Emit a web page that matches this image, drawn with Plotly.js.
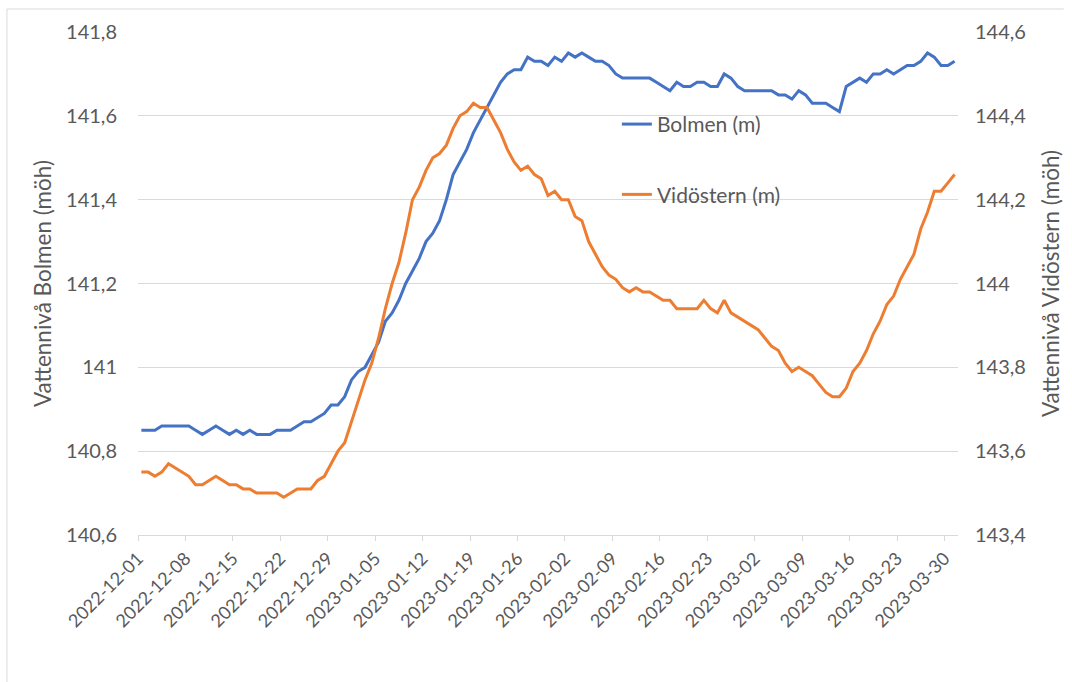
<!DOCTYPE html>
<html>
<head>
<meta charset="utf-8">
<script src="https://cdn.plot.ly/plotly-3.0.1.min.js"></script>
<style>
html,body{margin:0;padding:0;background:#fff;}
#chart{width:1072px;height:682px;}
</style>
</head>
<body>
<div id="chart"></div>
<script>
// Daily values, 2022-12-01 .. 2023-03-31
const startDate = '2022-12-01';
const bolmen = [
 140.85,140.85,140.85,140.86,140.86,140.86,140.86,140.86,140.85,140.84,
 140.85,140.86,140.85,140.84,140.85,140.84,140.85,140.84,140.84,140.84,
 140.85,140.85,140.85,140.86,140.87,140.87,140.88,140.89,140.91,140.91,
 140.93,140.97,140.99,141.00,141.03,141.06,141.11,141.13,141.16,141.20,
 141.23,141.26,141.30,141.32,141.35,141.40,141.46,141.49,141.52,141.56,
 141.59,141.62,141.65,141.68,141.70,141.71,141.71,141.74,141.73,141.73,
 141.72,141.74,141.73,141.75,141.74,141.75,141.74,141.73,141.73,141.72,
 141.70,141.69,141.69,141.69,141.69,141.69,141.68,141.67,141.66,141.68,
 141.67,141.67,141.68,141.68,141.67,141.67,141.70,141.69,141.67,141.66,
 141.66,141.66,141.66,141.66,141.65,141.65,141.64,141.66,141.65,141.63,
 141.63,141.63,141.62,141.61,141.67,141.68,141.69,141.68,141.70,141.70,
 141.71,141.70,141.71,141.72,141.72,141.73,141.75,141.74,141.72,141.72,
 141.73
];
const vidostern = [
 143.55,143.55,143.54,143.55,143.57,143.56,143.55,143.54,143.52,143.52,
 143.53,143.54,143.53,143.52,143.52,143.51,143.51,143.50,143.50,143.50,
 143.50,143.49,143.50,143.51,143.51,143.51,143.53,143.54,143.57,143.60,
 143.62,143.67,143.72,143.77,143.81,143.87,143.94,144.00,144.05,144.12,
 144.20,144.23,144.27,144.30,144.31,144.33,144.37,144.40,144.41,144.43,
 144.42,144.42,144.39,144.36,144.32,144.29,144.27,144.28,144.26,144.25,
 144.21,144.22,144.20,144.20,144.16,144.15,144.10,144.07,144.04,144.02,
 144.01,143.99,143.98,143.99,143.98,143.98,143.97,143.96,143.96,143.94,
 143.94,143.94,143.94,143.96,143.94,143.93,143.96,143.93,143.92,143.91,
 143.90,143.89,143.87,143.85,143.84,143.81,143.79,143.80,143.79,143.78,
 143.76,143.74,143.73,143.73,143.75,143.79,143.81,143.84,143.88,143.91,
 143.95,143.97,144.01,144.04,144.07,144.13,144.17,144.22,144.22,144.24,
 144.26
];
const xTickVals = ['2022-12-01','2022-12-08','2022-12-15','2022-12-22','2022-12-29',
 '2023-01-05','2023-01-12','2023-01-19','2023-01-26','2023-02-02','2023-02-09',
 '2023-02-16','2023-02-23','2023-03-02','2023-03-09','2023-03-16','2023-03-23','2023-03-30'];
const leftTickVals = [140.6,140.8,141.0,141.2,141.4,141.6,141.8];
const leftTickText = ['140,6','140,8','141','141,2','141,4','141,6','141,8'];
const rightTickVals = [143.4,143.6,143.8,144.0,144.2,144.4,144.6];
const rightTickText = ['143,4','143,6','143,8','144','144,2','144,4','144,6'];
const seriesNames = ['Bolmen (m)','Vidöstern (m)'];
const leftTitle = 'Vattennivå Bolmen (möh)';
const rightTitle = 'Vattennivå Vidöstern (möh)';

// build date list for the daily categories
const dates = [];
{
  const d0 = new Date(startDate + 'T00:00:00Z');
  for (let i = 0; i < bolmen.length; i++) {
    const d = new Date(d0.getTime() + i * 86400000);
    dates.push(d.toISOString().slice(0, 10));
  }
}

const textColor = '#595959';
const font = 'Lato, "Open Sans", sans-serif';

const traces = [
  {x: dates, y: bolmen, name: seriesNames[0], type: 'scatter', mode: 'lines',
   line: {color: '#4472C4', width: 3}, yaxis: 'y', legendgroup: 'a',
   xperiod: 86400000, xperiodalignment: 'middle'},
  {x: dates, y: vidostern, name: seriesNames[1], type: 'scatter', mode: 'lines',
   line: {color: '#ED7D31', width: 3}, yaxis: 'y2', legendgroup: 'b',
   xperiod: 86400000, xperiodalignment: 'middle'}
];

const layout = {
  width: 1072, height: 682,
  margin: {l: 138, r: 114, t: 32, b: 147},
  paper_bgcolor: '#ffffff', plot_bgcolor: '#ffffff',
  font: {family: font, color: textColor, size: 19},
  showlegend: true,
  legend: {x: 0.584, y: 0.857, xanchor: 'left', yanchor: 'top',
    bgcolor: 'rgba(0,0,0,0)', font: {size: 21, color: textColor},
    traceorder: 'grouped', tracegroupgap: 40, itemwidth: 30},
  xaxis: {type: 'date', range: ['2022-12-01', '2023-04-01'],
    tickvals: xTickVals, ticktext: xTickVals, tickangle: -45,
    showgrid: false, zeroline: false, showline: true, linecolor: '#d9d9d9', linewidth: 1,
    ticks: 'outside', ticklen: 5, tickcolor: '#d9d9d9',
    tickfont: {size: 18, color: textColor}},
  yaxis: {range: [140.6, 141.8], tickvals: leftTickVals, ticktext: leftTickText,
    showgrid: true, gridcolor: '#d9d9d9', gridwidth: 1, zeroline: false, showline: false,
    ticks: '', ticklabelstandoff: 20, tickfont: {size: 20, color: textColor},
    title: {text: leftTitle, font: {size: 22.5, color: textColor}, standoff: 8}},
  yaxis2: {range: [143.4, 144.6], overlaying: 'y', side: 'right',
    tickvals: rightTickVals, ticktext: rightTickText,
    showgrid: false, zeroline: false, showline: false,
    ticks: '', ticklabelstandoff: 16, tickfont: {size: 20, color: textColor},
    title: {text: rightTitle, font: {size: 22.5, color: textColor}, standoff: 17}},
  shapes: [
    {type: 'line', xref: 'paper', yref: 'paper', x0: -0.1598, x1: 1.129, y0: 1.0457, y1: 1.0457,
     line: {color: '#d9d9d9', width: 1}},
    {type: 'line', xref: 'paper', yref: 'paper', x0: -0.1598, x1: -0.1598, y0: 1.0457, y1: -0.3,
     line: {color: '#d9d9d9', width: 1}}
  ]
};

Plotly.newPlot('chart', traces, layout, {displayModeBar: false, responsive: false});
</script>
</body>
</html>
